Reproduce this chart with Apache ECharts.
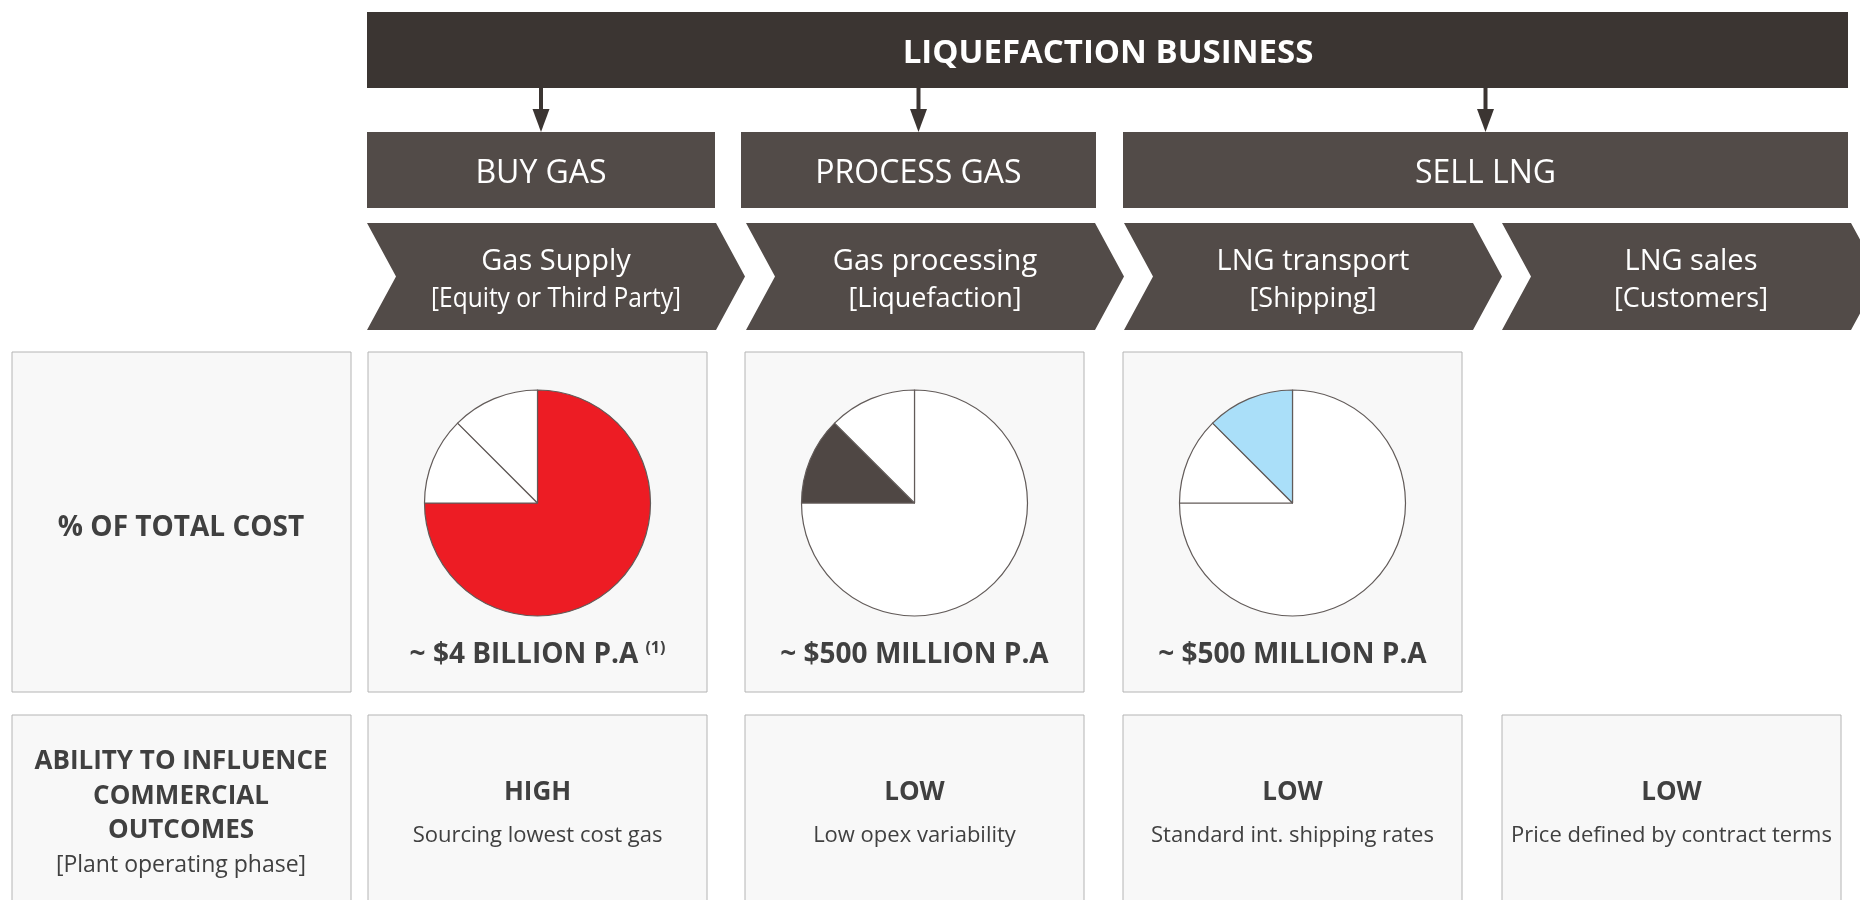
<!DOCTYPE html>
<html><head><meta charset="utf-8">
<script src="https://cdn.jsdelivr.net/npm/echarts@6/dist/echarts.min.js"></script>
<style>html,body{margin:0;padding:0;background:#fff}#c{width:1860px;height:900px}</style>
</head><body><div id="c"></div>
<script>
// ---- data ----
const headline = 'LIQUEFACTION BUSINESS';
const groups = ['BUY GAS', 'PROCESS GAS', 'SELL LNG'];
const stages = ['Gas Supply', 'Gas processing', 'LNG transport', 'LNG sales'];
const stageNotes = ['[Equity or Third Party]', '[Liquefaction]', '[Shipping]', '[Customers]'];
const costHeader = ['% OF TOTAL COST'];
const influenceHeader = ['ABILITY TO INFLUENCE', 'COMMERCIAL', 'OUTCOMES'];
const influenceHeaderNote = '[Plant operating phase]';
const costNames = ['Gas supply', 'Gas processing', 'LNG transport'];
const costShare = [75, 12.5, 12.5];
const costLabels = ['~ $4 BILLION P.A', '~ $500 MILLION P.A', '~ $500 MILLION P.A'];
const costFootnotes = ['(1)', '', ''];
const influence = ['HIGH', 'LOW', 'LOW', 'LOW'];
const influenceNotes = ['Sourcing lowest cost gas', 'Low opex variability', 'Standard int. shipping rates', 'Price defined by contract terms'];

// ---- style / layout ----
const FONT = '"Open Sans", "Noto Sans", sans-serif';
const DARK = '#3b3532', MID = '#524b48', TXT = '#404040';
const BOX_FILL = '#f8f8f8', BOX_LINE = '#b4b4b4';
const HL = ['#ed1c24', '#4f4744', '#aadff9'];
const DY = 3;

const cv = document.createElement('canvas').getContext('2d');
function measure(s, size, weight) { cv.font = `${weight} ${size}px ${FONT}`; return cv.measureText(s).width; }
function txt(x, y, s, size, weight, color, maxW, align) {
  const w = measure(s, size, weight);
  const sc = maxW ? Math.min(1, maxW / w) : 1;
  return { type: 'text', x, y: y + DY, scaleX: sc, z: 10, silent: true,
    style: { text: s, x: 0, y: 0, fill: color, fontFamily: FONT, fontSize: size, fontWeight: weight,
      textAlign: align || 'center', textVerticalAlign: 'middle' } };
}
function rect(x, y, w, h, fill, stroke) {
  return { type: 'rect', z: 0, silent: true, shape: { x, y, width: w, height: h },
    style: { fill, stroke: stroke || null, lineWidth: stroke ? 1 : 0 } };
}

const els = [];
// top banner
els.push(rect(367, 12, 1481, 76, DARK));
els.push(txt(1108, 51, headline, 33, 'bold', '#fff'));
// group boxes
const groupSpan = [[367, 715], [741, 1096], [1123, 1848]];
groups.forEach((g, i) => {
  const [a, b] = groupSpan[i];
  const cx = (a + b) / 2;
  els.push(rect(a, 132, b - a, 76, MID));
  els.push(txt(cx, 171, g, 32, 'normal', '#fff'));
  // arrow
  els.push({ type: 'line', z: 1, silent: true, shape: { x1: cx, y1: 86, x2: cx, y2: 112 }, style: { stroke: DARK, lineWidth: 4 } });
  els.push({ type: 'polygon', z: 1, silent: true, shape: { points: [[cx - 8.5, 109], [cx + 8.5, 109], [cx, 132]] }, style: { fill: DARK } });
});
// chevrons
const chevX = [367, 746, 1124, 1502];
const CW = 349, CD = 29, CY0 = 223, CY1 = 330, CYM = (CY0 + CY1) / 2;
stages.forEach((s, i) => {
  const x0 = chevX[i];
  els.push({ type: 'polygon', z: 0, silent: true,
    shape: { points: [[x0, CY0], [x0 + CW, CY0], [x0 + CW + CD, CYM], [x0 + CW, CY1], [x0, CY1], [x0 + CD, CYM]] },
    style: { fill: MID } });
  const cx = x0 + CW / 2 + CD / 2;
  els.push(txt(cx, 259, s, 29, 'normal', '#fff'));
  els.push(txt(cx, 296, stageNotes[i], 27, 'normal', '#fff', 250));
});
// row boxes
const colX = [368, 745, 1123, 1502];
const COLW = 339;
// header column
els.push(rect(12, 352, 339, 340, BOX_FILL, BOX_LINE));
els.push(txt(181, 525, costHeader[0], 28, 'bold', TXT));
els.push(rect(12, 715, 339, 200, BOX_FILL, BOX_LINE));
const ihY = [759, 794, 828];
influenceHeader.forEach((s, i) => els.push(txt(181, ihY[i], s, 26, 'bold', TXT)));
els.push(txt(181, 862, influenceHeaderNote, 23, 'normal', TXT));

const pieCenters = [];
costLabels.forEach((lab, i) => {
  const x = colX[i];
  const cx = x + COLW / 2;
  pieCenters.push(cx);
  els.push(rect(x, 352, COLW, 340, BOX_FILL, BOX_LINE));
  const w = measure(lab, 28, 'bold');
  const fn = costFootnotes[i];
  if (fn) {
    const ws = measure(fn, 16, 'bold');
    const gap = 7;
    const mc = cx - (gap + ws) / 2;
    els.push(txt(mc, 652, lab, 28, 'bold', TXT));
    els.push(txt(mc + w / 2 + gap, 645, fn, 16, 'bold', TXT, null, 'left'));
  } else {
    els.push(txt(cx, 652, lab, 28, 'bold', TXT));
  }
});
influence.forEach((s, i) => {
  const x = colX[i];
  const cx = x + COLW / 2;
  els.push(rect(x, 715, COLW, 200, BOX_FILL, BOX_LINE));
  els.push(txt(cx, 790, s, 26, 'bold', TXT));
  els.push(txt(cx, 833, influenceNotes[i], 22, 'normal', TXT));
});

const series = pieCenters.map((cx, k) => ({
  type: 'pie', z: 5, center: [cx, 503], radius: 113, startAngle: 90, clockwise: true,
  silent: true, animation: false, label: { show: false }, labelLine: { show: false },
  emphasis: { disabled: true },
  itemStyle: { borderColor: '#625b59', borderWidth: 1.2 },
  data: costShare.map((v, j) => ({ name: costNames[j], value: v, itemStyle: { color: j === k ? HL[j] : '#ffffff' } }))
}));

const chart = echarts.init(document.getElementById('c'), null, { renderer: 'canvas' });
chart.setOption({ backgroundColor: '#ffffff', animation: false, graphic: { elements: els }, series });
</script></body></html>
